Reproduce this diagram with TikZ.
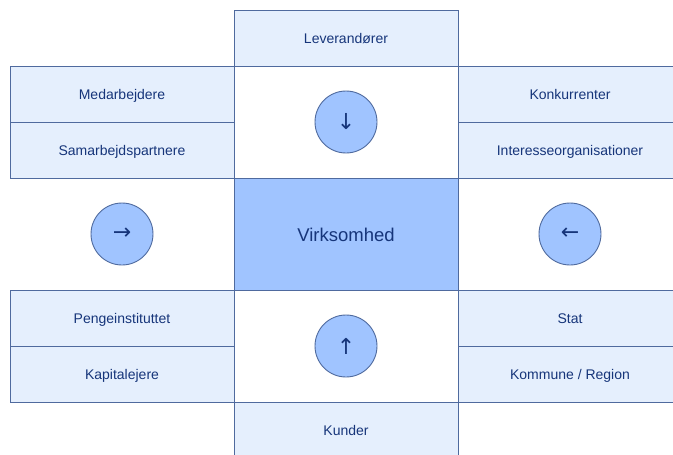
\documentclass[tikz,border=0pt]{standalone}
\usepackage{fontspec}
\setmainfont{Liberation Sans}
\newfontfamily\arrowfont{DejaVu Sans}
\usetikzlibrary{positioning}

\definecolor{linec}{HTML}{4F6A9E}
\definecolor{boxc}{HTML}{E5EFFD}
\definecolor{corec}{HTML}{A0C4FF}
\definecolor{textc}{HTML}{16357A}

\begin{document}
\begin{tikzpicture}[x=1pt, y=-1pt,
    node distance=0pt,
    cell/.style={draw=linec, line width=0.9pt, fill=boxc, text=textc, outer sep=0,
      minimum width=224pt, minimum height=56pt, inner sep=0, text height=13pt, text depth=2pt,
      font=\fontsize{14}{16}\selectfont},
    gap/.style={cell, fill=white, minimum height=112pt},
    core/.style={cell, fill=corec, minimum height=112pt, text height=18pt, text depth=3pt,
      font=\fontsize{18.5}{22}\selectfont},
    ring/.style={circle, draw=linec, line width=0.9pt, fill=corec, text=textc,
      minimum size=62pt, inner sep=0, font=\arrowfont\fontsize{22}{24}\selectfont}
  ]
    \useasboundingbox (0,0) rectangle (673,455);
    \clip (0,0) rectangle (673,455);

    % centre column
    \node[core] (virk) at (346,234) {Virksomhed};
    \node[gap, above=of virk] (topgap) {};
    \node[gap, below=of virk] (botgap) {};
    \node[cell, above=of topgap] (lev) {Leverandører};
    \node[cell, below=of botgap] (kunder) {Kunder};

    % left side
    \node[cell, anchor=south east] (samarb) at (topgap.south west) {Samarbejdspartnere};
    \node[cell, above=of samarb] (medarb) {Medarbejdere};
    \node[cell, anchor=north east] (penge) at (botgap.north west) {Pengeinstituttet};
    \node[cell, below=of penge] (kapital) {Kapitalejere};

    % right side
    \node[cell, anchor=south west] (interesse) at (topgap.south east) {Interesseorganisationer};
    \node[cell, above=of interesse] (konk) {Konkurrenter};
    \node[cell, anchor=north west] (stat) at (botgap.north east) {Stat};
    \node[cell, below=of stat] (kommune) {Kommune / Region};

    % arrows
    \node[ring] (down) at (topgap) {↓};
    \node[ring] (up) at (botgap) {↑};
    \node[ring] (right) at (samarb.south |- virk) {→};
    \node[ring] (left) at (interesse.south |- virk) {←};
\end{tikzpicture}
\end{document}
